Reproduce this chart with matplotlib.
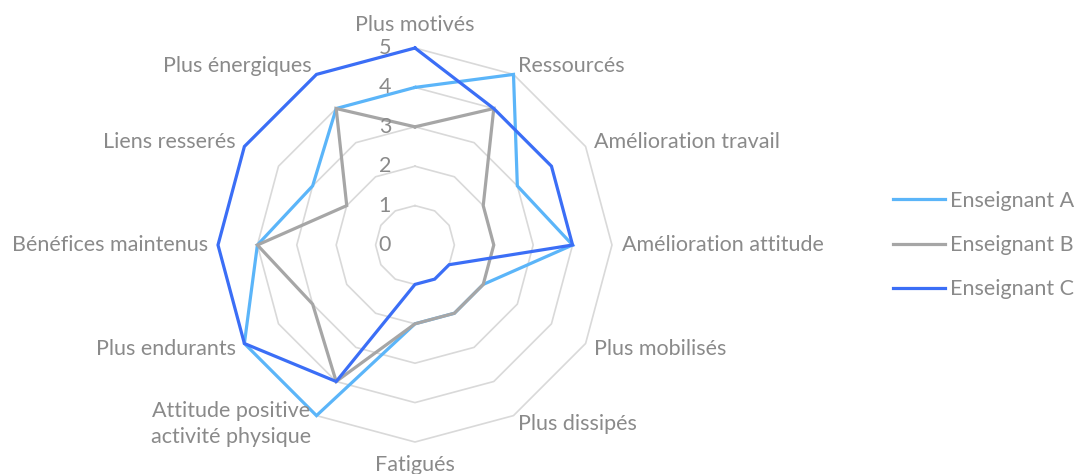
import matplotlib
matplotlib.use("Agg")
import matplotlib.pyplot as plt
import numpy as np

categories = ["Plus motivés", "Ressourcés", "Amélioration travail",
              "Amélioration attitude", "Plus mobilisés", "Plus dissipés",
              "Fatigués", "Attitude positive\nactivité physique",
              "Plus endurants", "Bénéfices maintenus", "Liens resserés",
              "Plus énergiques"]
enseignant_a = [4, 5, 3, 4, 2, 2, 2, 5, 5, 4, 3, 4]
enseignant_b = [3, 4, 2, 2, 2, 2, 2, 4, 3, 4, 2, 4]
enseignant_c = [5, 4, 4, 4, 1, 1, 1, 4, 5, 5, 5, 5]
series_names = ["Enseignant A", "Enseignant B", "Enseignant C"]
ring_values = [0, 1, 2, 3, 4, 5]

colors = ["#5BB5F9", "#A6A6A6", "#3B6EF6"]
grid_color = "#D9D9D9"
text_color = "#8A8A8A"
fs = 15.5

plt.rcParams["font.family"] = ["Lato", "DejaVu Sans"]

fig = plt.figure(figsize=(10.79, 4.74), dpi=100)
ax = fig.add_axes([0.3846 - 0.1826, 0.4831 - 0.4156, 0.3652, 0.8312],
                  projection="polar")
ax.set_theta_zero_location("N")
ax.set_theta_direction(-1)
ax.set_ylim(0, 5)
ax.axis("off")

n = len(categories)
theta = np.linspace(0, 2 * np.pi, n, endpoint=False)
theta_closed = np.append(theta, theta[0])

# polygon grid rings
for r in ring_values[1:]:
    ax.plot(theta_closed, [r] * (n + 1), color=grid_color, lw=1.2,
            clip_on=False, zorder=1)

for vals, c, name in zip([enseignant_a, enseignant_b, enseignant_c],
                         colors, series_names):
    v = np.append(vals, vals[0])
    ax.plot(theta_closed, v, color=c, lw=2.3, label=name,
            clip_on=False, zorder=3, solid_joinstyle="miter")

# ring value labels along the top axis
for r in ring_values:
    ax.annotate(str(r), xy=(0, r), xytext=(-30, 0),
                textcoords="offset pixels", ha="center", va="center",
                fontsize=fs, color=text_color)

# category labels
for t, lab in zip(theta, categories):
    s, c = np.sin(t), np.cos(t)
    if abs(s) < 1e-6:
        ha = "center"
        va = "bottom" if c > 0 else "top"
        off = (0, 13 * np.sign(c))
    else:
        ha = "left" if s > 0 else "right"
        va = "center"
        off = (10 * s, 10 * c)
    ax.annotate(lab, xy=(t, 5), xytext=off, textcoords="offset pixels",
                ha=ha, va=va, fontsize=fs, color=text_color,
                multialignment="center", linespacing=1.35)

leg = fig.legend(loc="center left", bbox_to_anchor=(0.818, 0.483),
                 frameon=False, fontsize=fs, handlelength=2.4,
                 handletextpad=0.25, labelspacing=1.12, borderpad=0)
for txt in leg.get_texts():
    txt.set_color(text_color)

fig.savefig("out.png", dpi=100)
